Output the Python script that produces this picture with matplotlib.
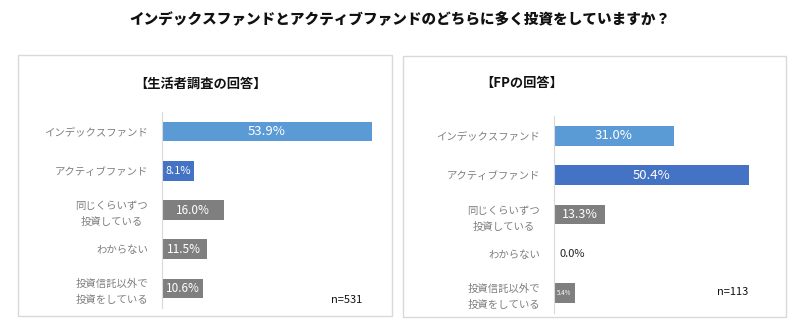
import matplotlib
matplotlib.use("Agg")
import matplotlib.pyplot as plt
from matplotlib.patches import Rectangle

plt.rcParams['font.family'] = ['Noto Sans CJK JP', 'DejaVu Sans']

title = "インデックスファンドとアクティブファンドのどちらに多く投資をしていますか？"
categories = ["インデックスファンド", "アクティブファンド", "同じくらいずつ\n投資している",
              "わからない", "投資信託以外で\n投資をしている"]
consumer_title = "【生活者調査の回答】"
consumer_values = [53.9, 8.1, 16.0, 11.5, 10.6]
consumer_n = "n=531"
fp_title = "【FPの回答】"
fp_values = [31.0, 50.4, 13.3, 0.0, 5.4]
fp_n = "n=113"

colors = ["#5B9BD5", "#4472C4", "#7F7F7F", "#7F7F7F", "#7F7F7F"]

W, H = 800, 329
fig = plt.figure(figsize=(W / 100, H / 100), dpi=100)

def px_axes(x0, y0, x1, y1):
    return fig.add_axes([x0 / W, 1 - y1 / H, (x1 - x0) / W, (y1 - y0) / H])

# panel boxes
for (bx0, by0, bx1, by1) in [(18, 55, 392, 316), (403, 56, 786, 317)]:
    fig.patches.append(Rectangle((bx0 / W, 1 - by1 / H), (bx1 - bx0) / W, (by1 - by0) / H,
                                 transform=fig.transFigure, fill=False,
                                 edgecolor="#D9D9D9", linewidth=1.0))

fig.text(0.5, 1 - 20 / H, title, ha="center", va="center", fontsize=10.5,
         fontweight="heavy", color="#111111")

def draw_panel(ax, values, ptitle, ntext, tx, ty, nx, ny, label_sizes, xlim):
    y = list(range(len(categories)))
    ax.barh(y, values, height=0.5, color=colors)
    ax.set_ylim(4.5, -0.5)
    ax.set_xlim(0, xlim)
    ax.set_yticks(y)
    ax.set_yticklabels(categories, fontsize=7.5, color="#7F7F7F", multialignment="center",
                       linespacing=1.75)
    ax.tick_params(axis="y", length=0, pad=10)
    ax.set_xticks([])
    for s in ["top", "right", "bottom"]:
        ax.spines[s].set_visible(False)
    ax.spines["left"].set_color("#D9D9D9")
    ax.patch.set_alpha(0)
    for i, v in enumerate(values):
        fs = label_sizes[i]
        if v == 0:
            ax.text(1.5, i, f"{v:.1f}%", ha="left", va="center", fontsize=fs, color="#222222")
        else:
            ax.text(v / 2, i, f"{v:.1f}%", ha="center", va="center", fontsize=fs, color="white")
    fig.text(tx / W, 1 - ty / H, ptitle, ha="center", va="center", fontsize=9.5,
             fontweight="bold", color="#111111")
    fig.text(nx / W, 1 - ny / H, ntext, ha="center", va="center", fontsize=8, color="#111111")

ax1 = px_axes(162, 112, 162 + 55 * 3.9, 308)
draw_panel(ax1, consumer_values, consumer_title, consumer_n, 201, 84, 347, 300,
           [9.5, 8, 8.5, 8.5, 8.5], 55)

ax2 = px_axes(554, 116, 554 + 55 * 3.87, 313)
draw_panel(ax2, fp_values, fp_title, fp_n, 522, 83, 733, 292,
           [9.5, 9.5, 9, 8, 4.5], 55)

fig.savefig("out.png", dpi=100, facecolor="white")
